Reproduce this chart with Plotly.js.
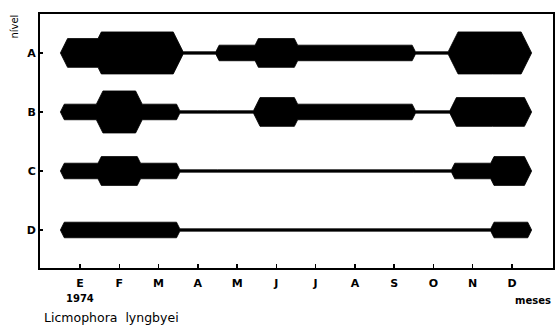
<!DOCTYPE html>
<html>
<head>
<meta charset="utf-8">
<script src="https://cdn.plot.ly/plotly-3.0.1.min.js"></script>
<style>
  html, body { margin: 0; padding: 0; background: #fff; }
  #chart { width: 557px; height: 325px; }
</style>
</head>
<body>
<div id="chart"></div>
<script>
// Kite diagram: abundance class (0-3) of Licmophora lyngbyei per month and shore level, 1974
const months = ['E', 'F', 'M', 'A', 'M', 'J', 'J', 'A', 'S', 'O', 'N', 'D'];
const levels = ['A', 'B', 'C', 'D'];
const levelA = [2, 3, 3, 0, 1, 2, 1, 1, 1, 0, 3, 3];
const levelB = [1, 3, 1, 0, 0, 2, 1, 1, 1, 0, 2, 2];
const levelC = [1, 2, 1, 0, 0, 0, 0, 0, 0, 0, 1, 2];
const levelD = [1, 1, 1, 0, 0, 0, 0, 0, 0, 0, 0, 1];
const series = [levelA, levelB, levelC, levelD];

// drawing constants (half-thickness in y units, bevel in months per y unit)
const LINE_HALF = 0.02;
const CLASS_STEP = 0.112;
const BEVEL = 0.75;

// half-thickness profile along the months, with bevelled steps between classes
function profile(vals) {
  const first = vals.findIndex(v => v > 0);
  const last = vals.length - 1 - [...vals].reverse().findIndex(v => v > 0);
  const h = vals.map(k => LINE_HALF + CLASS_STEP * k);
  const pts = [];
  const x0 = first + 0.5;
  pts.push([x0, 0]);
  pts.push([x0 + h[first] * BEVEL, h[first]]);
  for (let i = first; i < last; i++) {
    const b = i + 1.5;
    const w = Math.abs(h[i + 1] - h[i]) * BEVEL;
    pts.push([b - w / 2, h[i]]);
    pts.push([b + w / 2, h[i + 1]]);
  }
  const x1 = last + 1.5;
  pts.push([x1 - h[last] * BEVEL, h[last]]);
  pts.push([x1, 0]);
  return pts;
}

const traces = series.map((vals, li) => {
  const center = levels.length - li;
  const pts = profile(vals);
  const up = pts.map(p => [p[0], center + p[1]]);
  const down = pts.slice().reverse().map(p => [p[0], center - p[1]]);
  const all = up.concat(down);
  return {
    type: 'scatter',
    mode: 'lines',
    x: all.map(p => p[0]),
    y: all.map(p => p[1]),
    fill: 'toself',
    fillcolor: '#000',
    line: { color: '#000', width: 0.8 },
    hoverinfo: 'skip',
    showlegend: false
  };
});

const FONT = 'DejaVu Sans, Liberation Sans, sans-serif';

const layout = {
  width: 557,
  height: 325,
  margin: { l: 40, r: 4, t: 14, b: 57 },
  paper_bgcolor: '#fff',
  plot_bgcolor: '#fff',
  showlegend: false,
  xaxis: {
    range: [-0.019, 13.044],
    tickvals: months.map((m, i) => i + 1),
    ticktext: months,
    ticks: 'inside',
    ticklen: 4,
    tickwidth: 1.5,
    tickcolor: '#000',
    ticklabelstandoff: 4,
    showline: true,
    mirror: true,
    linecolor: '#000',
    linewidth: 2,
    showgrid: false,
    zeroline: false,
    tickfont: { family: FONT, size: 11, color: '#000', weight: 'bold' }
  },
  yaxis: {
    range: [0.356, 4.66],
    tickvals: levels.map((l, i) => levels.length - i),
    ticktext: levels,
    ticks: 'inside',
    ticklen: 3,
    tickwidth: 1.5,
    tickcolor: '#000',
    showline: true,
    mirror: true,
    linecolor: '#000',
    linewidth: 2,
    showgrid: false,
    zeroline: false,
    tickfont: { family: FONT, size: 11, color: '#000', weight: 'bold' }
  },
  annotations: [
    { text: 'nível', xref: 'paper', yref: 'paper', x: -0.049, xanchor: 'center',
      y: 0.95, yanchor: 'middle', textangle: -90,
      showarrow: false, font: { family: FONT, size: 10, color: '#000' } },
    { text: '1974', xref: 'x', yref: 'paper', x: 1, y: -0.122, yanchor: 'middle',
      showarrow: false, font: { family: FONT, size: 10, color: '#000', weight: 'bold' } },
    { text: 'meses', xref: 'paper', yref: 'paper', x: 1, xanchor: 'right', y: -0.128, yanchor: 'middle',
      showarrow: false, font: { family: FONT, size: 10, color: '#000', weight: 'bold' } },
    { text: 'Licmophora\u00a0\u00a0lyngbyei', xref: 'paper', yref: 'paper', x: 0.004, xanchor: 'left',
      y: -0.193, yanchor: 'middle', showarrow: false,
      font: { family: FONT, size: 12.5, color: '#000' } }
  ]
};

Plotly.newPlot('chart', traces, layout, { displayModeBar: false, staticPlot: true });
</script>
</body>
</html>
